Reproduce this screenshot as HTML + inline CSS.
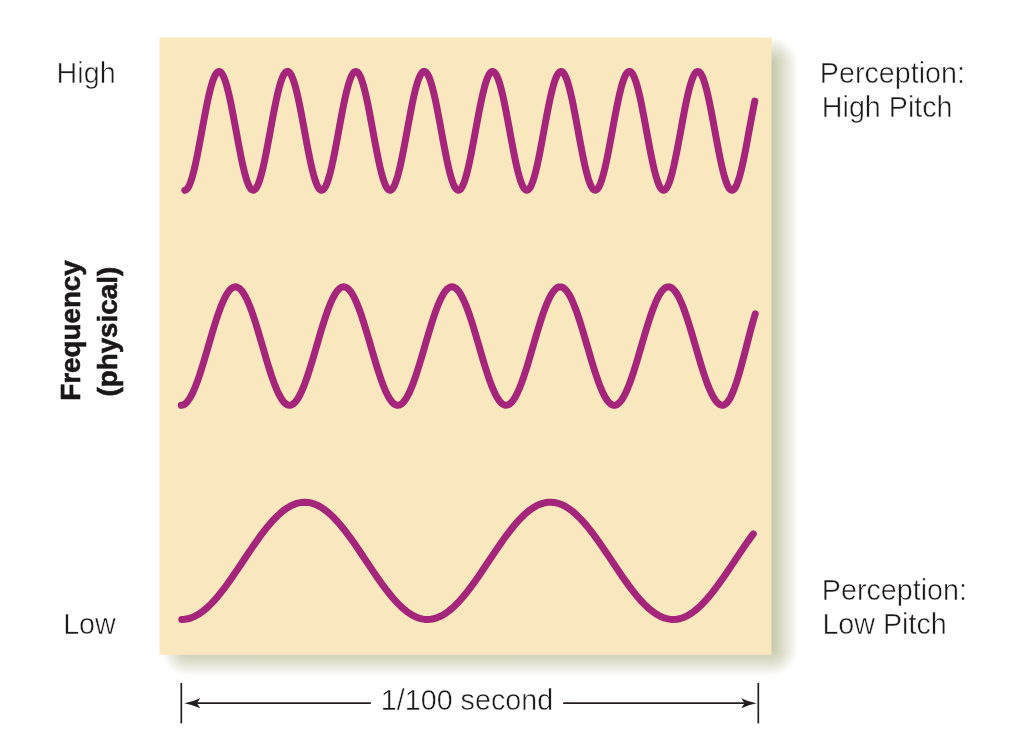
<!DOCTYPE html>
<html><head><meta charset="utf-8"><title>Frequency and pitch</title>
<style>
html,body{margin:0;padding:0;background:#fff;}
body{width:1018px;height:740px;overflow:hidden;position:relative;}
svg{display:block;position:absolute;left:0;top:0;}
text{font-family:"Liberation Sans",sans-serif;fill:#1c191a;}
.l{font-size:28.7px;stroke:#fff;stroke-width:0.5px;}
.b{font-size:27.8px;font-weight:bold;fill:#1a1718;stroke:#1a1718;stroke-width:0.6px;}
</style></head><body>
<svg width="1018" height="740" viewBox="0 0 1018 740">
<defs>
<linearGradient id="sr" x1="0" y1="0" x2="1" y2="0"><stop offset="0" stop-color="#c3c4a5" stop-opacity="1"/><stop offset="0.14" stop-color="#c3c4a5" stop-opacity="0.84"/><stop offset="0.5" stop-color="#c3c4a5" stop-opacity="0.52"/><stop offset="1" stop-color="#c3c4a5" stop-opacity="0"/></linearGradient>
<linearGradient id="sb" x1="0" y1="0" x2="0" y2="1"><stop offset="0" stop-color="#c3c4a5" stop-opacity="1"/><stop offset="0.14" stop-color="#c3c4a5" stop-opacity="0.84"/><stop offset="0.5" stop-color="#c3c4a5" stop-opacity="0.52"/><stop offset="1" stop-color="#c3c4a5" stop-opacity="0"/></linearGradient>
<radialGradient id="sc" cx="0.5" cy="0.5" r="0.5"><stop offset="0" stop-color="#c3c4a5" stop-opacity="1"/><stop offset="0.14" stop-color="#c3c4a5" stop-opacity="0.84"/><stop offset="0.5" stop-color="#c3c4a5" stop-opacity="0.52"/><stop offset="1" stop-color="#c3c4a5" stop-opacity="0"/></radialGradient>
<clipPath id="cTR"><rect x="771" y="30" width="30" height="34"/></clipPath>
<clipPath id="cBR"><rect x="771" y="649" width="30" height="30"/></clipPath>
<clipPath id="cBL"><rect x="150" y="649" width="38" height="30"/></clipPath>
</defs>
<rect x="0" y="0" width="1018" height="740" fill="#ffffff"/>
<rect x="771" y="64" width="27" height="585" fill="url(#sr)"/>
<rect x="188" y="649" width="583" height="27" fill="url(#sb)"/>
<g clip-path="url(#cTR)"><circle cx="771" cy="64" r="27" fill="url(#sc)"/></g>
<g clip-path="url(#cBR)"><circle cx="771" cy="649" r="27" fill="url(#sc)"/></g>
<g clip-path="url(#cBL)"><circle cx="188" cy="649" r="27" fill="url(#sc)"/></g>
<rect x="159.5" y="37.5" width="612" height="617.2" fill="#f9e8be"/>
<path d="M184.8 190.3 L186.3 189.7 L187.8 188.1 L189.3 185.3 L190.8 181.5 L192.3 176.7 L193.8 171.1 L195.3 164.7 L196.8 157.7 L198.3 150.2 L199.8 142.2 L201.3 134.1 L202.8 125.9 L204.3 117.8 L205.8 110.0 L207.3 102.6 L208.8 95.6 L210.3 89.4 L211.8 83.9 L213.3 79.4 L214.8 75.8 L216.3 73.2 L217.8 71.8 L219.3 71.4 L220.8 72.2 L222.3 74.1 L223.8 77.1 L225.3 81.1 L226.8 86.0 L228.3 91.8 L229.8 98.3 L231.3 105.5 L232.8 113.1 L234.3 121.1 L235.8 129.2 L237.3 137.4 L238.8 145.4 L240.3 153.2 L241.8 160.6 L243.3 167.4 L244.8 173.5 L246.3 178.8 L247.8 183.1 L249.3 186.5 L250.8 188.9 L252.3 190.1 L253.8 190.2 L255.3 189.2 L256.8 187.1 L258.3 183.9 L259.8 179.7 L261.3 174.6 L262.8 168.6 L264.3 162.0 L265.8 154.7 L267.3 147.0 L268.8 139.0 L270.3 130.9 L271.8 122.7 L273.3 114.7 L274.8 107.0 L276.3 99.7 L277.8 93.1 L279.3 87.1 L280.8 82.0 L282.3 77.8 L283.8 74.6 L285.3 72.5 L286.8 71.5 L288.3 71.6 L289.8 72.8 L291.3 75.2 L292.8 78.6 L294.3 82.9 L295.8 88.2 L297.3 94.3 L298.8 101.1 L300.3 108.5 L301.8 116.3 L303.3 124.3 L304.8 132.5 L306.3 140.6 L307.8 148.6 L309.3 156.2 L310.8 163.4 L312.3 169.9 L313.8 175.7 L315.3 180.6 L316.8 184.6 L318.3 187.6 L319.8 189.5 L321.3 190.3 L322.8 189.9 L324.3 188.5 L325.8 185.9 L327.3 182.3 L328.8 177.8 L330.3 172.3 L331.8 166.1 L333.3 159.1 L334.8 151.7 L336.3 143.9 L337.8 135.8 L339.3 127.6 L340.8 119.5 L342.3 111.5 L343.8 104.0 L345.3 97.0 L346.8 90.6 L348.3 85.0 L349.8 80.2 L351.3 76.4 L352.8 73.6 L354.3 72.0 L355.8 71.4 L357.3 72.0 L358.8 73.6 L360.3 76.4 L361.8 80.2 L363.3 85.0 L364.8 90.6 L366.3 97.0 L367.8 104.0 L369.3 111.5 L370.8 119.5 L372.3 127.6 L373.8 135.8 L375.3 143.9 L376.8 151.7 L378.3 159.1 L379.8 166.1 L381.3 172.3 L382.8 177.8 L384.3 182.3 L385.8 185.9 L387.3 188.5 L388.8 189.9 L390.3 190.3 L391.8 189.5 L393.3 187.6 L394.8 184.6 L396.3 180.6 L397.8 175.7 L399.3 169.9 L400.8 163.4 L402.3 156.2 L403.8 148.6 L405.3 140.6 L406.8 132.5 L408.3 124.3 L409.8 116.3 L411.3 108.5 L412.8 101.1 L414.3 94.3 L415.8 88.2 L417.3 82.9 L418.8 78.6 L420.3 75.2 L421.8 72.8 L423.3 71.6 L424.8 71.5 L426.3 72.5 L427.8 74.6 L429.3 77.8 L430.8 82.0 L432.3 87.1 L433.8 93.1 L435.3 99.7 L436.8 107.0 L438.3 114.7 L439.8 122.7 L441.3 130.8 L442.8 139.0 L444.3 147.0 L445.8 154.7 L447.3 162.0 L448.8 168.6 L450.3 174.6 L451.8 179.7 L453.3 183.9 L454.8 187.1 L456.3 189.2 L457.8 190.2 L459.3 190.1 L460.8 188.9 L462.3 186.5 L463.8 183.1 L465.3 178.8 L466.8 173.5 L468.3 167.4 L469.8 160.6 L471.3 153.2 L472.8 145.4 L474.3 137.4 L475.8 129.2 L477.3 121.1 L478.8 113.1 L480.3 105.5 L481.8 98.3 L483.3 91.8 L484.8 86.0 L486.3 81.1 L487.8 77.1 L489.3 74.1 L490.8 72.2 L492.3 71.4 L493.8 71.8 L495.3 73.2 L496.8 75.8 L498.3 79.4 L499.8 83.9 L501.3 89.4 L502.8 95.6 L504.3 102.6 L505.8 110.0 L507.3 117.8 L508.8 125.9 L510.3 134.1 L511.8 142.2 L513.3 150.2 L514.8 157.7 L516.3 164.7 L517.8 171.1 L519.3 176.7 L520.8 181.5 L522.3 185.3 L523.8 188.1 L525.3 189.7 L526.8 190.3 L528.3 189.7 L529.8 188.1 L531.3 185.3 L532.8 181.5 L534.3 176.7 L535.8 171.1 L537.3 164.7 L538.8 157.7 L540.3 150.2 L541.8 142.2 L543.3 134.1 L544.8 125.9 L546.3 117.8 L547.8 110.0 L549.3 102.6 L550.8 95.6 L552.3 89.4 L553.8 83.9 L555.3 79.4 L556.8 75.8 L558.3 73.2 L559.8 71.8 L561.3 71.4 L562.8 72.2 L564.3 74.1 L565.8 77.1 L567.3 81.1 L568.8 86.0 L570.3 91.8 L571.8 98.3 L573.3 105.5 L574.8 113.1 L576.3 121.1 L577.8 129.2 L579.3 137.4 L580.8 145.4 L582.3 153.2 L583.8 160.6 L585.3 167.4 L586.8 173.5 L588.3 178.8 L589.8 183.1 L591.3 186.5 L592.8 188.9 L594.3 190.1 L595.8 190.2 L597.3 189.2 L598.8 187.1 L600.3 183.9 L601.8 179.7 L603.3 174.6 L604.8 168.6 L606.3 162.0 L607.8 154.7 L609.3 147.0 L610.8 139.0 L612.3 130.9 L613.8 122.7 L615.3 114.7 L616.8 107.0 L618.3 99.7 L619.8 93.1 L621.3 87.1 L622.8 82.0 L624.3 77.8 L625.8 74.6 L627.3 72.5 L628.8 71.5 L630.3 71.6 L631.8 72.8 L633.3 75.2 L634.8 78.6 L636.3 82.9 L637.8 88.2 L639.3 94.3 L640.8 101.1 L642.3 108.5 L643.8 116.3 L645.3 124.3 L646.8 132.5 L648.3 140.6 L649.8 148.6 L651.3 156.2 L652.8 163.4 L654.3 169.9 L655.8 175.7 L657.3 180.6 L658.8 184.6 L660.3 187.6 L661.8 189.5 L663.3 190.3 L664.8 189.9 L666.3 188.5 L667.8 185.9 L669.3 182.3 L670.8 177.8 L672.3 172.3 L673.8 166.1 L675.3 159.1 L676.8 151.7 L678.3 143.9 L679.8 135.8 L681.3 127.6 L682.8 119.5 L684.3 111.5 L685.8 104.0 L687.3 97.0 L688.8 90.6 L690.3 85.0 L691.8 80.2 L693.3 76.4 L694.8 73.6 L696.3 72.0 L697.8 71.4 L699.3 72.0 L700.8 73.6 L702.3 76.4 L703.8 80.2 L705.3 85.0 L706.8 90.6 L708.3 97.0 L709.8 104.0 L711.3 111.5 L712.8 119.5 L714.3 127.6 L715.8 135.8 L717.3 143.9 L718.8 151.7 L720.3 159.1 L721.8 166.1 L723.3 172.3 L724.8 177.8 L726.3 182.3 L727.8 185.9 L729.3 188.5 L730.8 189.9 L732.3 190.3 L733.8 189.5 L735.3 187.6 L736.8 184.6 L738.3 180.6 L739.8 175.7 L741.3 169.9 L742.8 163.4 L744.3 156.2 L745.8 148.6 L747.3 140.6 L748.8 132.5 L750.3 124.3 L751.8 116.3 L753.3 108.5 L754.8 101.1" stroke="#a4257a" stroke-width="7" fill="none" stroke-linecap="round" stroke-linejoin="round"/>
<path d="M181.3 405.3 L183.3 404.9 L185.3 403.7 L187.3 401.7 L189.3 399.0 L191.3 395.6 L193.3 391.5 L195.3 386.8 L197.3 381.5 L199.3 375.8 L201.3 369.7 L203.3 363.2 L205.3 356.5 L207.3 349.7 L209.3 342.8 L211.3 336.0 L213.3 329.3 L215.3 322.8 L217.3 316.7 L219.3 310.9 L221.3 305.6 L223.3 300.9 L225.3 296.7 L227.3 293.3 L229.3 290.5 L231.3 288.5 L233.3 287.3 L235.3 286.8 L237.3 287.2 L239.3 288.3 L241.3 290.2 L243.3 292.9 L245.3 296.3 L247.3 300.3 L249.3 305.0 L251.3 310.2 L253.3 315.9 L255.3 322.0 L257.3 328.5 L259.3 335.2 L261.3 342.0 L263.3 348.8 L265.3 355.7 L267.3 362.4 L269.3 368.9 L271.3 375.1 L273.3 380.8 L275.3 386.2 L277.3 390.9 L279.3 395.1 L281.3 398.6 L283.3 401.4 L285.3 403.5 L287.3 404.8 L289.3 405.3 L291.3 405.0 L293.3 403.9 L295.3 402.0 L297.3 399.4 L299.3 396.1 L301.3 392.0 L303.3 387.4 L305.3 382.2 L307.3 376.5 L309.3 370.4 L311.3 364.0 L313.3 357.4 L315.3 350.6 L317.3 343.7 L319.3 336.8 L321.3 330.1 L323.3 323.6 L325.3 317.4 L327.3 311.6 L329.3 306.3 L331.3 301.4 L333.3 297.2 L335.3 293.7 L337.3 290.8 L339.3 288.7 L341.3 287.4 L343.3 286.8 L345.3 287.1 L347.3 288.1 L349.3 289.9 L351.3 292.5 L353.3 295.8 L355.3 299.8 L357.3 304.4 L359.3 309.5 L361.3 315.2 L363.3 321.3 L365.3 327.7 L367.3 334.3 L369.3 341.1 L371.3 348.0 L373.3 354.8 L375.3 361.6 L377.3 368.1 L379.3 374.3 L381.3 380.1 L383.3 385.5 L385.3 390.4 L387.3 394.6 L389.3 398.2 L391.3 401.1 L393.3 403.3 L395.3 404.7 L397.3 405.3 L399.3 405.1 L401.3 404.1 L403.3 402.3 L405.3 399.8 L407.3 396.5 L409.3 392.6 L411.3 388.0 L413.3 382.9 L415.3 377.3 L417.3 371.2 L419.3 364.8 L421.3 358.2 L423.3 351.4 L425.3 344.5 L427.3 337.7 L429.3 331.0 L431.3 324.4 L433.3 318.2 L435.3 312.3 L437.3 306.9 L439.3 302.0 L441.3 297.7 L443.3 294.1 L445.3 291.1 L447.3 288.9 L449.3 287.5 L451.3 286.8 L453.3 287.0 L455.3 287.9 L457.3 289.7 L459.3 292.1 L461.3 295.4 L463.3 299.3 L465.3 303.8 L467.3 308.9 L469.3 314.5 L471.3 320.5 L473.3 326.8 L475.3 333.5 L477.3 340.3 L479.3 347.1 L481.3 354.0 L483.3 360.7 L485.3 367.3 L487.3 373.5 L489.3 379.4 L491.3 384.9 L493.3 389.8 L495.3 394.1 L497.3 397.8 L499.3 400.8 L501.3 403.1 L503.3 404.5 L505.3 405.2 L507.3 405.1 L509.3 404.2 L511.3 402.6 L513.3 400.1 L515.3 397.0 L517.3 393.1 L519.3 388.6 L521.3 383.6 L523.3 378.0 L525.3 372.0 L527.3 365.7 L529.3 359.1 L531.3 352.3 L533.3 345.4 L535.3 338.5 L537.3 331.8 L539.3 325.2 L541.3 318.9 L543.3 313.0 L545.3 307.5 L547.3 302.6 L549.3 298.2 L551.3 294.5 L553.3 291.5 L555.3 289.2 L557.3 287.6 L559.3 286.9 L561.3 286.9 L563.3 287.8 L565.3 289.4 L567.3 291.8 L569.3 294.9 L571.3 298.7 L573.3 303.2 L575.3 308.2 L577.3 313.7 L579.3 319.7 L581.3 326.0 L583.3 332.6 L585.3 339.4 L587.3 346.3 L589.3 353.1 L591.3 359.9 L593.3 366.5 L595.3 372.8 L597.3 378.7 L599.3 384.2 L601.3 389.2 L603.3 393.6 L605.3 397.4 L607.3 400.5 L609.3 402.8 L611.3 404.4 L613.3 405.2 L615.3 405.2 L617.3 404.4 L619.3 402.8 L621.3 400.5 L623.3 397.4 L625.3 393.6 L627.3 389.2 L629.3 384.2 L631.3 378.7 L633.3 372.8 L635.3 366.5 L637.3 359.9 L639.3 353.1 L641.3 346.3 L643.3 339.4 L645.3 332.6 L647.3 326.0 L649.3 319.7 L651.3 313.7 L653.3 308.2 L655.3 303.2 L657.3 298.7 L659.3 294.9 L661.3 291.8 L663.3 289.4 L665.3 287.8 L667.3 286.9 L669.3 286.9 L671.3 287.6 L673.3 289.2 L675.3 291.5 L677.3 294.5 L679.3 298.2 L681.3 302.6 L683.3 307.5 L685.3 313.0 L687.3 318.9 L689.3 325.2 L691.3 331.8 L693.3 338.5 L695.3 345.4 L697.3 352.3 L699.3 359.1 L701.3 365.7 L703.3 372.0 L705.3 378.0 L707.3 383.6 L709.3 388.6 L711.3 393.1 L713.3 397.0 L715.3 400.1 L717.3 402.6 L719.3 404.2 L721.3 405.1 L722.5 405.3 L724.5 404.8 L726.5 403.3 L728.5 400.8 L730.5 397.4 L732.5 393.1 L734.5 387.9 L736.5 382.1 L738.5 375.7 L740.5 368.7 L742.5 361.4 L744.5 353.8 L746.5 346.1 L748.5 338.3 L750.5 330.7 L752.5 323.4 L754.5 316.4 L755.3 313.8" stroke="#a4257a" stroke-width="7" fill="none" stroke-linecap="round" stroke-linejoin="round"/>
<path d="M181.8 619.5 L184.8 619.3 L187.8 618.8 L190.8 618.0 L193.8 616.8 L196.8 615.2 L199.8 613.4 L202.8 611.2 L205.8 608.8 L208.8 606.1 L211.8 603.1 L214.8 599.8 L217.8 596.4 L220.8 592.7 L223.8 588.8 L226.8 584.8 L229.8 580.6 L232.8 576.3 L235.8 571.9 L238.8 567.5 L241.8 563.0 L244.8 558.5 L247.8 554.0 L250.8 549.6 L253.8 545.2 L256.8 540.9 L259.8 536.7 L262.8 532.7 L265.8 528.8 L268.8 525.2 L271.8 521.7 L274.8 518.5 L277.8 515.5 L280.8 512.8 L283.8 510.3 L286.8 508.2 L289.8 506.4 L292.8 504.9 L295.8 503.7 L298.8 502.9 L301.8 502.4 L304.8 502.2 L307.8 502.4 L310.8 502.9 L313.8 503.8 L316.8 505.0 L319.8 506.5 L322.8 508.4 L325.8 510.6 L328.8 513.0 L331.8 515.8 L334.8 518.8 L337.8 522.0 L340.8 525.5 L343.8 529.2 L346.8 533.1 L349.8 537.1 L352.8 541.3 L355.8 545.6 L358.8 550.0 L361.8 554.5 L364.8 558.9 L367.8 563.4 L370.8 567.9 L373.8 572.4 L376.8 576.7 L379.8 581.0 L382.8 585.2 L385.8 589.2 L388.8 593.0 L391.8 596.7 L394.8 600.2 L397.8 603.4 L400.8 606.4 L403.8 609.1 L406.8 611.5 L409.8 613.6 L412.8 615.4 L415.8 616.9 L418.8 618.1 L421.8 618.9 L424.8 619.4 L427.8 619.5 L430.8 619.3 L433.8 618.7 L436.8 617.8 L439.8 616.6 L442.8 615.1 L445.8 613.2 L448.8 611.0 L451.8 608.5 L454.8 605.8 L457.8 602.8 L460.8 599.5 L463.8 596.0 L466.8 592.3 L469.8 588.4 L472.8 584.4 L475.8 580.2 L478.8 575.9 L481.8 571.5 L484.8 567.0 L487.8 562.5 L490.8 558.0 L493.8 553.6 L496.8 549.1 L499.8 544.7 L502.8 540.5 L505.8 536.3 L508.8 532.3 L511.8 528.5 L514.8 524.8 L517.8 521.4 L520.8 518.2 L523.8 515.2 L526.8 512.5 L529.8 510.1 L532.8 508.0 L535.8 506.2 L538.8 504.7 L541.8 503.6 L544.8 502.8 L547.8 502.3 L550.8 502.2 L553.8 502.4 L556.8 503.0 L559.8 503.9 L562.8 505.1 L565.8 506.7 L568.8 508.6 L571.8 510.8 L574.8 513.3 L577.8 516.1 L580.8 519.1 L583.8 522.4 L586.8 525.9 L589.8 529.6 L592.8 533.5 L595.8 537.6 L598.8 541.7 L601.8 546.1 L604.8 550.4 L607.8 554.9 L610.8 559.4 L613.8 563.9 L616.8 568.4 L619.8 572.8 L622.8 577.2 L625.8 581.4 L628.8 585.6 L631.8 589.6 L634.8 593.4 L637.8 597.1 L640.8 600.5 L643.8 603.7 L646.8 606.6 L649.8 609.3 L652.8 611.7 L655.8 613.8 L658.8 615.6 L661.8 617.0 L664.8 618.2 L667.8 618.9 L670.8 619.4 L673.8 619.5 L676.8 619.3 L679.8 618.7 L682.8 617.7 L685.8 616.5 L688.8 614.9 L691.8 613.0 L694.8 610.8 L697.8 608.3 L700.8 605.5 L703.8 602.4 L706.8 599.1 L709.8 595.6 L712.8 591.9 L715.8 588.0 L718.8 583.9 L721.8 579.7 L724.8 575.4 L727.8 571.0 L730.8 566.6 L733.8 562.1 L736.8 557.6 L739.8 553.1 L742.8 548.7 L745.8 544.3 L748.8 540.1 L751.8 535.9 L753.3 533.9" stroke="#a4257a" stroke-width="7" fill="none" stroke-linecap="round" stroke-linejoin="round"/>
<text class="l" x="115.6" y="83.2" text-anchor="end">High</text>
<text class="l" x="115.8" y="634.2" text-anchor="end">Low</text>
<text class="l" x="819.8" y="83.0">Perception:</text>
<text class="l" x="821.8" y="117.4">High Pitch</text>
<text class="l" x="821.8" y="600.4">Perception:</text>
<text class="l" x="822.4" y="634.4">Low Pitch</text>
<text class="b" transform="translate(80 330.5) rotate(-90)" text-anchor="middle">Frequency</text>
<text class="b" transform="translate(116.8 331.7) rotate(-90)" text-anchor="middle">(physical)</text>
<text class="l" x="467" y="710.4" text-anchor="middle">1/100 second</text>
<g stroke="#231f20" stroke-width="1.7" fill="none">
<line x1="181.3" y1="683" x2="181.3" y2="723.4"/>
<line x1="758.3" y1="683" x2="758.3" y2="723.4"/>
<line x1="196" y1="703.2" x2="370.8" y2="703.2"/>
<line x1="563.2" y1="703.2" x2="745" y2="703.2"/>
</g>
<path d="M184.3 703.2 Q193 701.6 200.3 698.2 L196.8 703.2 L200.3 708.2 Q193 704.8 184.3 703.2 Z" fill="#231f20"/>
<path d="M756.6 703.2 Q748 701.6 741.2 698.2 L744.6 703.2 L741.2 708.2 Q748 704.8 756.6 703.2 Z" fill="#231f20"/>
</svg>
</body></html>
